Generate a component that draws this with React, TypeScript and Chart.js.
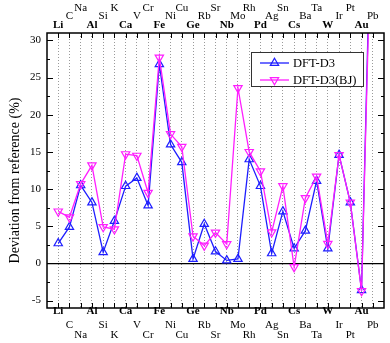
import { useEffect, useRef } from 'react';
import { Chart, registerables } from 'chart.js';

Chart.register(...registerables);

const elements = ['Li', 'C', 'Na', 'Al', 'Si', 'K', 'Ca', 'V', 'Cr', 'Fe', 'Ni', 'Cu', 'Ge', 'Rb', 'Sr', 'Nb', 'Mo', 'Rh', 'Pd', 'Ag', 'Sn', 'Cs', 'Ba', 'Ta', 'W', 'Ir', 'Pt', 'Au', 'Pb'];
const dftD3 = [2.7, 4.9, 10.5, 8.2, 1.5, 5.7, 10.4, 11.5, 7.8, 26.8, 16.0, 13.6, 0.6, 5.3, 1.6, 0.4, 0.6, 14.0, 10.4, 1.35, 7.0, 2.0, 4.4, 11.1, 2.0, 14.6, 8.2, -3.6, 57];
const dftD3BJ = [7.0, 6.2, 10.7, 13.2, 4.9, 4.6, 14.7, 14.5, 9.5, 27.7, 17.4, 15.7, 3.65, 2.4, 4.15, 2.6, 23.6, 15.0, 12.4, 4.2, 10.4, -0.5, 8.8, 11.7, 2.65, 14.6, 8.2, -3.7, 54];
const yTicks = [-5, 0, 5, 10, 15, 20, 25, 30];
const seriesNames = ['DFT-D3', 'DFT-D3(BJ)'];
const yTitle = 'Deviation from reference (%)';

const FONT = '"Liberation Serif", "Times New Roman", serif';
const BLUE = '#1e1eff';
const MAGENTA = '#ff1eff';

function tri(ctx: CanvasRenderingContext2D, x: number, y: number, r: number, down: boolean) {
  const s = down ? -1 : 1;
  const h = (r * Math.sqrt(3)) / 2;
  ctx.beginPath();
  ctx.moveTo(x, y - s * r);
  ctx.lineTo(x + h, y + (s * r) / 2);
  ctx.lineTo(x - h, y + (s * r) / 2);
  ctx.closePath();
  ctx.stroke();
}

const decor = {
  id: 'decor',
  afterDraw(chart: any) {
    const { ctx, chartArea: a, scales } = chart;
    const xs = scales.x;
    const ys = scales.y;
    ctx.save();
    ctx.strokeStyle = '#000';
    ctx.lineWidth = 1;
    const seg = (x1: number, y1: number, x2: number, y2: number) => {
      ctx.beginPath();
      ctx.moveTo(x1, y1);
      ctx.lineTo(x2, y2);
      ctx.stroke();
    };
    // x tick marks (inward, top & bottom)
    elements.forEach((_, i) => {
      const px = Math.round(xs.getPixelForValue(i)) + 0.5;
      seg(px, a.bottom, px, a.bottom - 5);
      seg(px, a.top, px, a.top + 5);
    });
    // y tick marks: major + minor (midpoints)
    const ys2: number[] = [];
    yTicks.forEach((v, i) => {
      ys2.push(v);
      if (i < yTicks.length - 1) ys2.push((v + yTicks[i + 1]) / 2);
    });
    ys2.forEach((v) => {
      const major = yTicks.includes(v);
      const len = major ? 6 : 3;
      const py = Math.round(ys.getPixelForValue(v)) + 0.5;
      seg(a.left, py, a.left + len, py);
      seg(a.right, py, a.right - len, py);
    });
    // frame
    ctx.lineWidth = 1.5;
    ctx.strokeRect(a.left, a.top, a.right - a.left, a.bottom - a.top);

    // element labels, staggered in three rows
    ctx.fillStyle = '#000';
    ctx.textAlign = 'center';
    ctx.textBaseline = 'middle';
    const topRows = [a.top - 7.5, a.top - 16.5, a.top - 25];
    const botRows = [a.bottom + 3.5, a.bottom + 17, a.bottom + 27.5];
    elements.forEach((el, i) => {
      const px = xs.getPixelForValue(i);
      const row = i % 3;
      ctx.font = (row === 0 ? 'bold ' : '') + '11px ' + FONT;
      ctx.fillText(el, px, topRows[row]);
      ctx.fillText(el, px, botRows[row]);
    });

    // y axis title
    ctx.save();
    ctx.translate(15, (a.top + a.bottom) / 2 + 10);
    ctx.rotate(-Math.PI / 2);
    ctx.font = '14px ' + FONT;
    ctx.fillText(yTitle, 0, 0);
    ctx.restore();

    // legend
    const bx = a.right - 133;
    const by = a.top + 19;
    ctx.fillStyle = '#fff';
    ctx.fillRect(bx, by, 112, 34);
    ctx.lineWidth = 1;
    ctx.strokeStyle = '#333';
    ctx.strokeRect(bx + 0.5, by + 0.5, 112, 34);
    const cols = [BLUE, MAGENTA];
    seriesNames.forEach((name, k) => {
      const cy = by + 11 + k * 17;
      ctx.strokeStyle = cols[k];
      ctx.lineWidth = 1.3;
      seg(bx + 9, cy, bx + 38, cy);
      ctx.lineWidth = 1.2;
      tri(ctx, bx + 23.5, cy, 4.8, k === 1);
      ctx.fillStyle = '#000';
      ctx.textAlign = 'left';
      ctx.font = '12.5px ' + FONT;
      ctx.fillText(name, bx + 42, cy + 0.5);
    });
    ctx.restore();
  },
};

export default function App() {
  const ref = useRef<HTMLCanvasElement>(null);
  useEffect(() => {
    const mk = (vals: number[]) => vals.map((v, i) => ({ x: i, y: v }));
    const chart = new Chart(ref.current!, {
      type: 'line',
      data: {
        datasets: [
          {
            label: seriesNames[0],
            data: mk(dftD3),
            borderColor: BLUE,
            backgroundColor: 'rgba(0,0,0,0)',
            borderWidth: 1.3,
            pointStyle: 'triangle',
            pointRadius: 4.8,
            pointBorderWidth: 1.2,
            pointBorderColor: BLUE,
            pointBackgroundColor: 'rgba(0,0,0,0)',
            order: 1,
          },
          {
            label: seriesNames[1],
            data: mk(dftD3BJ),
            borderColor: MAGENTA,
            backgroundColor: 'rgba(0,0,0,0)',
            borderWidth: 1.3,
            pointStyle: 'triangle',
            pointRotation: 180,
            pointRadius: 4.8,
            pointBorderWidth: 1.2,
            pointBorderColor: MAGENTA,
            pointBackgroundColor: 'rgba(0,0,0,0)',
            order: 0,
          },
        ],
      },
      options: {
        responsive: false,
        animation: false,
        events: [],
        layout: { padding: { left: 0, right: 3, top: 0, bottom: 0 } },
        plugins: { legend: { display: false }, tooltip: { enabled: false } },
        scales: {
          x: {
            type: 'linear',
            position: 'bottom',
            min: -1,
            max: 29,
            afterBuildTicks: (s: any) => {
              s.ticks = elements.map((_, i) => ({ value: i }));
            },
            afterFit: (s: any) => {
              s.height = 35;
            },
            ticks: { display: false },
            border: { display: false, dash: [1, 2] },
            grid: { color: '#9a9a9a', lineWidth: 1, drawTicks: false },
          },
          x2: {
            type: 'linear',
            position: 'top',
            display: true,
            min: -1,
            max: 29,
            afterFit: (s: any) => {
              s.height = 33;
            },
            ticks: { display: false },
            border: { display: false },
            grid: { display: false },
          },
          y: {
            type: 'linear',
            min: -6,
            max: 31,
            afterBuildTicks: (s: any) => {
              s.ticks = yTicks.map((v) => ({ value: v }));
            },
            afterFit: (s: any) => {
              s.width = 47;
            },
            ticks: {
              padding: 6,
              color: '#000',
              font: { family: FONT, size: 11 },
            },
            border: { display: false },
            grid: {
              drawTicks: false,
              lineWidth: 1.2,
              color: (c: any) => (c.tick && c.tick.value === 0 ? '#000' : 'rgba(0,0,0,0)'),
            },
          },
        },
      },
      plugins: [decor],
    } as any);
    return () => chart.destroy();
  }, []);
  return (
    <div style={{ position: 'fixed', left: 0, top: 0, width: 390, height: 343, background: '#fff' }}>
      <canvas ref={ref} width={390} height={343} style={{ display: 'block' }} />
    </div>
  );
}
